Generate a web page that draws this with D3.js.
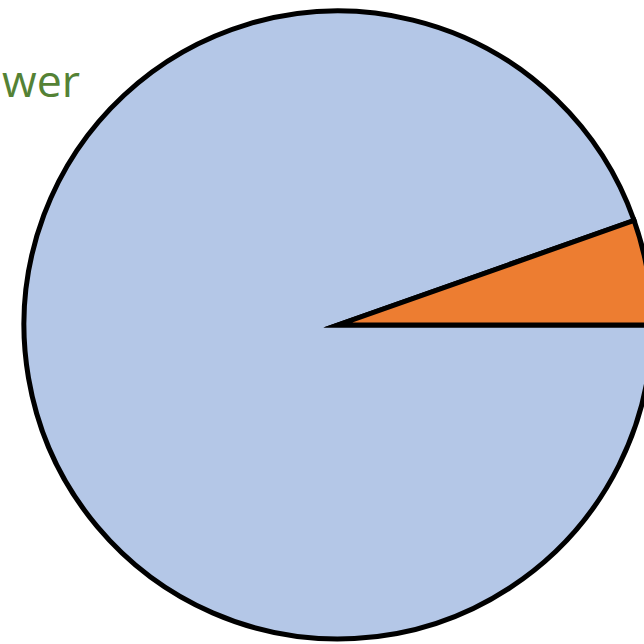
<!DOCTYPE html>
<html>
<head>
<meta charset="utf-8">
<script src="https://cdn.jsdelivr.net/npm/d3@7"></script>
<style>
  html, body { margin: 0; padding: 0; background: #fff; }
  svg { display: block; }
</style>
</head>
<body>
<script>
// Pie shares
const categories = ["Other", "Segment"];
const values = [94.6, 5.4];
const colors = ["#B4C7E7", "#ED7D31"];
const titleText = "wer";

const W = 644, H = 644;
const cx = 338, cy = 325, radius = 314;

const svg = d3.select("body").append("svg")
  .attr("width", W).attr("height", H);

// First slice starts at 3 o'clock and runs clockwise
const pie = d3.pie()
  .sort(null)
  .value(d => d)
  .startAngle(Math.PI / 2)
  .endAngle(Math.PI / 2 + 2 * Math.PI);

const arc = d3.arc().innerRadius(0).outerRadius(radius);

const g = svg.append("g").attr("transform", `translate(${cx},${cy})`);

g.selectAll("path")
  .data(pie(values))
  .join("path")
  .attr("d", arc)
  .attr("fill", (d, i) => colors[i])
  .attr("stroke", "#000")
  .attr("stroke-width", 5)
  .attr("stroke-linejoin", "miter")
  .attr("stroke-miterlimit", 10);

// Title fragment at top-left, sized to span the space left of the pie
const title = svg.append("text")
  .attr("x", 2)
  .attr("y", 97)
  .attr("text-anchor", "start")
  .attr("font-family", "'Open Sans', Lato, sans-serif")
  .attr("font-size", 56)
  .attr("fill", "#548235")
  .text(titleText);

const w = title.node().getComputedTextLength();
if (w > 0) title.attr("font-size", 56 * 78 / w);
</script>
</body>
</html>
